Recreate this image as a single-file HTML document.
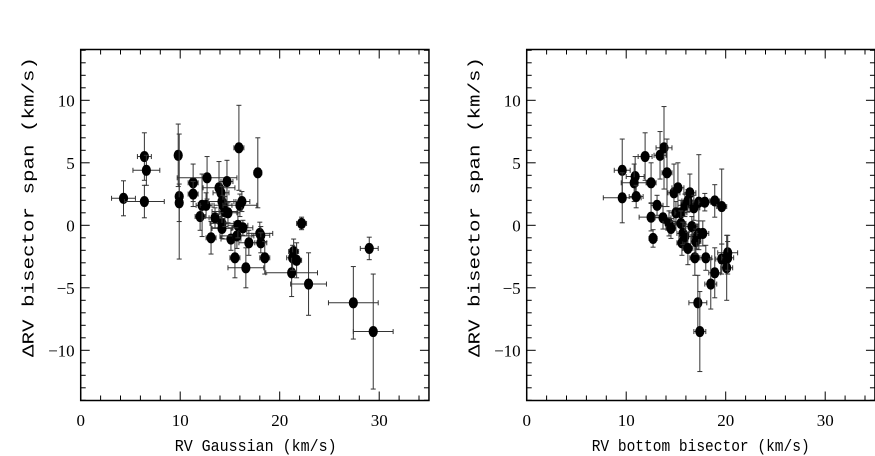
<!DOCTYPE html>
<html><head><meta charset="utf-8"><style>
html,body{margin:0;padding:0;background:#fff;}
svg{display:block;}
text{fill:#000;}
.serif{font-family:"Liberation Serif",serif;}
.mono{font-family:"Liberation Mono",monospace;}
</style></head><body>
<svg id="chart" width="875" height="456" viewBox="0 0 875 456" xmlns="http://www.w3.org/2000/svg"></svg>
<script>
// Left panel data: RV Gaussian vs delta RV bisector span
const leftX = [4.3,6.4,6.6,6.4,9.8,9.9,9.9,11.3,11.3,12.7,12.0,12.2,12.6,13.1,13.5,13.9,14.1,14.2,14.3,14.2,14.2,14.7,14.5,14.8,15.1,15.5,15.7,15.9,15.8,16.0,16.2,16.3,16.6,16.9,17.8,18.0,18.1,18.1,18.5,21.2,21.4,21.3,21.7,22.2,22.9,27.4,29.0,29.4];
const leftY = [2.16,5.5,4.4,1.9,5.6,2.3,1.8,3.4,2.5,3.8,0.7,1.6,1.6,-1.0,0.6,3.0,2.6,1.9,1.6,0.15,-0.25,3.5,1.1,1.0,-1.1,-2.6,-0.85,6.2,0.0,1.6,1.9,-0.2,-3.4,-1.4,4.2,-0.65,-0.8,-1.4,-2.6,-3.8,-2.1,-2.6,-2.8,0.15,-4.7,-6.2,-1.85,-8.5];
const leftXErr = [1.2,0.7,1.35,2.0,0.3,0.3,0.3,0.5,0.5,3.0,0.5,0.6,0.6,0.5,0.6,1.6,0.8,1.4,0.9,1.2,1.0,0.6,1.3,0.9,1.0,0.5,1.7,0.5,1.0,1.7,0.8,1.0,1.8,1.0,0.4,1.3,0.9,0.6,0.5,2.6,0.5,0.6,0.5,0.5,1.8,2.5,0.9,2.0];
const leftYErr = [1.4,1.9,1.2,1.3,2.5,5.0,1.5,1.5,1.0,1.7,1.1,2.5,1.0,1.3,0.8,2.1,0.9,1.2,0.8,1.0,0.8,1.7,1.2,0.8,0.9,1.6,1.0,3.4,1.0,0.9,0.8,0.6,1.6,1.0,2.8,0.9,0.7,0.8,1.3,1.9,1.0,1.0,1.4,0.5,2.5,2.9,0.9,4.6];
// Right panel data: RV bottom bisector vs delta RV bisector span
const rightX = [9.6,9.6,10.9,10.8,11.0,11.9,12.5,12.5,12.7,13.1,13.4,13.8,13.7,14.1,14.3,14.5,14.8,15.2,15.0,15.5,15.5,15.6,15.7,15.9,15.9,16.2,16.2,16.4,16.6,16.8,16.9,17.0,17.1,17.3,17.3,17.7,17.9,18.0,17.2,17.4,18.5,18.9,18.9,19.6,19.6,20.1,20.2,20.2];
const rightY = [4.4,2.2,3.9,3.4,2.3,5.5,3.4,0.65,-1.05,1.6,5.6,6.2,0.6,4.2,0.15,-0.25,2.6,3.0,1.0,1.0,0.15,-1.4,-0.65,-0.9,1.6,1.95,-1.85,2.6,-0.1,1.4,-2.6,-1.3,-0.9,1.85,-0.65,-0.65,1.85,-2.6,-6.2,-8.5,-4.7,-3.8,1.95,1.5,-2.7,-3.4,-2.2,-2.6];
const rightXErr = [0.8,1.9,0.9,1.3,0.7,0.7,0.5,1.2,0.4,0.6,0.6,0.8,0.8,0.5,0.6,0.5,0.6,0.6,0.7,0.6,0.5,0.5,0.6,0.6,0.7,0.6,0.5,0.6,0.6,0.6,0.5,0.5,0.5,0.6,0.6,0.6,0.6,0.6,0.9,0.6,0.6,0.6,0.5,0.5,0.6,0.6,1.0,0.6];
const rightYErr = [2.5,2.0,1.6,1.5,0.9,1.9,1.6,1.1,0.7,0.8,1.9,3.3,0.9,2.7,1.0,0.8,2.3,2.0,0.9,1.0,1.0,1.0,0.9,1.0,0.9,0.9,1.3,1.5,0.8,1.0,1.4,1.0,1.0,3.8,1.0,1.0,0.7,1.0,2.2,3.2,2.0,2.0,1.3,3.0,1.2,2.6,1.4,1.3];
const xTicks = [0,10,20,30];
const yTicks = [-10,-5,0,5,10];
const yLabelText = "\u0394RV  bisector  span  (km/s)";

const svg = document.getElementById('chart');
const NS = 'http://www.w3.org/2000/svg';
function mk(tag, attrs, parent){
  const e = document.createElementNS(NS, tag);
  for (const k in attrs) e.setAttribute(k, attrs[k]);
  (parent||svg).appendChild(e);
  return e;
}
const yTop = 49.5, yBot = 400.5;
function makeY(){ return v => 225.3 - v*12.5; }

function panel(name, x0, xs, ys, xe, ye, xlabel, xlabelW){
  const sx = v => x0 + v*9.95;
  const sy = makeY();
  const g = mk('g', {});
  
  
  const x1 = sx(35);
  const fr = mk('rect', {x:x0, y:yTop, width:x1-x0, height:yBot-yTop, fill:'none', stroke:'#000', 'stroke-width':1.5}, g);
  
  
  for (let v=0; v<=35; v+=2){
    const X = sx(v), major = v%10===0, L = major?9:5;
    mk('line',{x1:X,x2:X,y1:yBot,y2:yBot-L,stroke:'#000','stroke-width':1},g);
    mk('line',{x1:X,x2:X,y1:yTop,y2:yTop+L,stroke:'#000','stroke-width':1},g);
  }
  for (let v=-14; v<=14; v+=1){
    const Y = sy(v), major = v%5===0, L = major?9:5;
    mk('line',{x1:x0,x2:x0+L,y1:Y,y2:Y,stroke:'#000','stroke-width':1},g);
    mk('line',{x1:x1,x2:x1-L,y1:Y,y2:Y,stroke:'#000','stroke-width':1},g);
  }
  xTicks.forEach(v=>{
    const t = mk('text',{class:'serif',x:sx(v),y:426,'text-anchor':'middle','font-size':17},g);
    t.textContent = v;
    
    
  });
  yTicks.forEach(v=>{
    const t = mk('text',{class:'serif',x:x0-6,y:sy(v)+6,'text-anchor':'end','font-size':17},g);
    t.textContent = v===0?'0':(v<0?'\u2212'+(-v):v);
    
    
  });
  const xl = mk('text',{class:'mono',x:x0+(xlabelW[0]), y:451,'font-size':17,textLength:xlabelW[1],lengthAdjust:'spacingAndGlyphs'},g);
  xl.textContent = xlabel;
  
  
  const yl = mk('text',{class:'mono',x:0,y:0,'font-size':17,textLength:300,lengthAdjust:'spacingAndGlyphs',transform:`translate(${x0-47},357) rotate(-90)`},g);
  yl.textContent = yLabelText;
  
  
  for (let i=0;i<xs.length;i++){
    const cx = sx(xs[i]), cy = sy(ys[i]);
    const xa = sx(xs[i]-xe[i]), xb = sx(xs[i]+xe[i]);
    const ya = sy(ys[i]-ye[i]), yb = sy(ys[i]+ye[i]);
    const eg = mk('g',{stroke:'#333','stroke-width':1},g);
    
    
    mk('line',{x1:xa,x2:xb,y1:cy,y2:cy},eg);
    mk('line',{x1:xa,x2:xa,y1:cy-2.5,y2:cy+2.5},eg);
    mk('line',{x1:xb,x2:xb,y1:cy-2.5,y2:cy+2.5},eg);
    mk('line',{x1:cx,x2:cx,y1:ya,y2:yb},eg);
    mk('line',{x1:cx-2.5,x2:cx+2.5,y1:ya,y2:ya},eg);
    mk('line',{x1:cx-2.5,x2:cx+2.5,y1:yb,y2:yb},eg);
    const p = mk('ellipse',{cx:cx,cy:cy,rx:4.6,ry:5.6,fill:'#000'},g);
    
    
  }
}
panel('left-panel', 80.7, leftX, leftY, leftXErr, leftYErr, 'RV Gaussian (km/s)', [94,162]);
panel('right-panel', 526.7, rightX, rightY, rightXErr, rightYErr, 'RV bottom bisector (km/s)', [65,218]);
</script>
</body></html>
